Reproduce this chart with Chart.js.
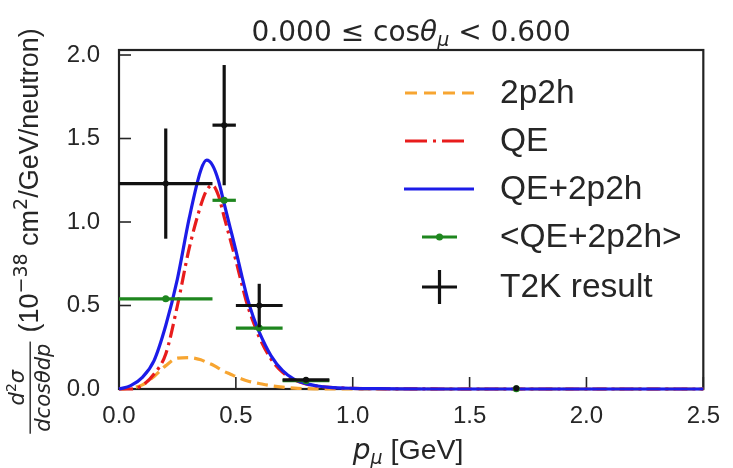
<!DOCTYPE html>
<html><head><meta charset="utf-8">
<script src="https://cdn.jsdelivr.net/npm/chart.js@4.4.0/dist/chart.umd.min.js"></script>
<style>html,body{margin:0;padding:0;background:#fff;}#wrap{width:733px;height:468px;}</style>
</head><body><div id="wrap"><canvas id="c" width="733" height="468"></canvas></div>
<script>
// ---------- data ----------
const momentum = [0,0.05,0.1,0.15,0.2,0.25,0.3,0.35,0.375,0.4,0.425,0.45,0.475,0.5,0.525,0.55,0.575,0.6,0.65,0.7,0.75,0.8,0.85,0.9,1.0,1.1,1.2,1.4,1.7,2.0,2.5];
const twoP2h   = [0,0.005,0.025,0.075,0.14,0.185,0.188,0.175,0.16,0.145,0.125,0.105,0.09,0.074,0.06,0.048,0.04,0.033,0.02,0.011,0.005,0.002,0.001,0,0,0,0,0,0,0,0];
const qe       = [0,0,0.022,0.09,0.21,0.50,0.84,1.10,1.19,1.22,1.16,1.03,0.90,0.77,0.63,0.50,0.40,0.31,0.18,0.10,0.054,0.03,0.017,0.01,0.004,0.002,0.001,0,0,0,0];
const qeSum    = [0,0.02,0.07,0.17,0.38,0.66,1.02,1.31,1.37,1.34,1.25,1.11,0.97,0.83,0.68,0.54,0.43,0.34,0.20,0.11,0.058,0.032,0.018,0.01,0.004,0.002,0.001,0,0,0,0];

const binCenter = [0.2,0.45,0.6,0.8,1.7];
const binLow    = [0.0,0.4,0.5,0.7,1.7];
const binHigh   = [0.4,0.5,0.7,0.9,1.7];
const avgModel  = [0.54,1.13,0.365,0.05,0.002];
const t2kValue  = [1.23,1.58,0.50,0.055,0.004];
const t2kError  = [0.33,0.36,0.13,0.01,0.0];

const xTicks = [0,0.5,1.0,1.5,2.0,2.5];
const yTicks = [0,0.5,1.0,1.5,2.0];

const labels = ['2p2h','QE','QE+2p2h','<QE+2p2h>','T2K result'];

// ---------- styles ----------
const C_OR='#f7a531', C_RED='#e81c1c', C_BLUE='#1c1ce8', C_GREEN='#1e861e', C_BLK='#111111', C_TXT='#262626';

function pts(xs, ys){ return xs.map((x,i)=>({x:x,y:ys[i]})); }

const errSets = {
  '<QE+2p2h>': {color:C_GREEN, y:avgModel, err:null},
  'T2K result': {color:C_BLK, y:t2kValue, err:t2kError}
};

const errorBarPlugin = {
  id:'errbars',
  beforeDatasetDraw(chart,args){
    const ds = chart.data.datasets[args.index];
    const e = errSets[ds.label]; if(!e) return;
    const xs = chart.scales.x, ys = chart.scales.y, ctx = chart.ctx;
    ctx.save(); ctx.strokeStyle = e.color; ctx.lineWidth = 3.2; ctx.lineCap='butt';
    binCenter.forEach((c,i)=>{
      const py = ys.getPixelForValue(e.y[i]);
      if (binHigh[i] > binLow[i]) {
        ctx.beginPath(); ctx.moveTo(xs.getPixelForValue(binLow[i]),py); ctx.lineTo(xs.getPixelForValue(binHigh[i]),py); ctx.stroke();
      }
      if (e.err && e.err[i] > 0) {
        const px = xs.getPixelForValue(c);
        ctx.beginPath(); ctx.moveTo(px, ys.getPixelForValue(e.y[i]-e.err[i])); ctx.lineTo(px, ys.getPixelForValue(e.y[i]+e.err[i])); ctx.stroke();
      }
    });
    ctx.restore();
  }
};

const frameTickPlugin = {
  id:'frameticks',
  beforeDatasetsDraw(chart){
    const ctx = chart.ctx, a = chart.chartArea, xs = chart.scales.x, ys = chart.scales.y;
    ctx.save();
    ctx.strokeStyle = '#262626'; ctx.lineWidth = 1.6;
    yTicks.forEach(v=>{ const p = ys.getPixelForValue(v); ctx.beginPath(); ctx.moveTo(a.left,p); ctx.lineTo(a.left+12,p); ctx.stroke(); });
    xTicks.forEach(v=>{ const p = xs.getPixelForValue(v); ctx.beginPath(); ctx.moveTo(p,a.bottom); ctx.lineTo(p,a.bottom-12); ctx.stroke(); });
    ctx.strokeStyle = '#222'; ctx.lineWidth = 2.2;
    ctx.strokeRect(a.left, a.top, a.right-a.left, a.bottom-a.top);
    ctx.restore();
  }
};

function runsWidth(ctx, runs){ let w=0; runs.forEach(r=>{ctx.font=r.f; w+=ctx.measureText(r.t).width;}); return w; }
function drawRuns(ctx, runs, x, y){ let cx=x; runs.forEach(r=>{ctx.font=r.f; ctx.fillText(r.t, cx, y+(r.dy||0)); cx+=ctx.measureText(r.t).width;}); return cx; }

const textPlugin = {
  id:'texts',
  afterDraw(chart){
    const ctx = chart.ctx, a = chart.chartArea;
    ctx.save();
    ctx.fillStyle = C_TXT; ctx.textBaseline='alphabetic'; ctx.textAlign='left';
    // title
    const title = [
      {t:'0.000 \u2264 cos', f:'28px "DejaVu Sans"'},
      {t:'\u03b8', f:'italic 28px "DejaVu Sans"'},
      {t:'\u03bc', f:'italic 19px "DejaVu Sans"', dy:5},
      {t:' < 0.600', f:'28px "DejaVu Sans"'}
    ];
    const cx = (a.left+a.right)/2;
    drawRuns(ctx, title, cx - runsWidth(ctx,title)/2, 41);
    // x label
    const xl = [
      {t:'p', f:'italic 28px "DejaVu Sans"'},
      {t:'\u03bc', f:'italic 19px "DejaVu Sans"', dy:5},
      {t:' [GeV]', f:'28.5px "Liberation Sans"'}
    ];
    drawRuns(ctx, xl, cx - runsWidth(ctx,xl)/2 - 3, 459);
    // y label (rotated)
    const num = [
      {t:'d', f:'italic 21px "DejaVu Sans"'},
      {t:'2', f:'14px "DejaVu Sans"', dy:-8},
      {t:'\u03c3', f:'italic 21px "DejaVu Sans"'}
    ];
    const den = [{t:'dcos\u03b8dp', f:'italic 21px "DejaVu Sans"'}];
    const main = [
      {t:'(10', f:'27px "Liberation Sans"'},
      {t:'\u221238', f:'19px "DejaVu Sans"', dy:-11},
      {t:' cm', f:'27px "Liberation Sans"'},
      {t:'2', f:'19px "DejaVu Sans"', dy:-11},
      {t:'/GeV/neutron)', f:'27px "Liberation Sans"'}
    ];
    const wn = runsWidth(ctx,num), wd = runsWidth(ctx,den), wf = Math.max(wn,wd)+4;
    const wm = runsWidth(ctx,main), gap = 9;
    const total = wf + gap + wm;
    ctx.translate(38, 231); ctx.rotate(-Math.PI/2);
    const s = -total/2;
    drawRuns(ctx, num, s + (wf-wn)/2, -14);
    drawRuns(ctx, den, s + (wf-wd)/2, 12);
    ctx.fillRect(s, -8.5, wf, 1.4);
    drawRuns(ctx, main, s + wf + gap, 0);
    ctx.restore();

    // legend
    ctx.save();
    const rows = [93,141,189,237,287];
    ctx.font = '33.5px "Liberation Sans"'; ctx.fillStyle = C_TXT; ctx.textBaseline='middle';
    labels.forEach((l,i)=>ctx.fillText(l, 500, rows[i]+1));
    ctx.lineWidth = 3.2; ctx.lineCap='butt';
    function seg(c,dash,x1,x2,y){ ctx.strokeStyle=c; ctx.setLineDash(dash); ctx.beginPath(); ctx.moveTo(x1,y); ctx.lineTo(x2,y); ctx.stroke(); }
    seg(C_OR,[12,7],405,474,rows[0]);
    seg(C_RED,[22,6,3,6],405,470,rows[1]);
    seg(C_BLUE,[],404,474,rows[2]);
    seg(C_GREEN,[],422,457,rows[3]);
    ctx.setLineDash([]); ctx.fillStyle=C_GREEN; ctx.beginPath(); ctx.arc(439.5,rows[3],3.5,0,Math.PI*2); ctx.fill();
    seg(C_BLK,[],422,457,rows[4]);
    ctx.beginPath(); ctx.moveTo(439.5,rows[4]-17); ctx.lineTo(439.5,rows[4]+17); ctx.stroke();
    ctx.restore();
  }
};

new Chart(document.getElementById('c'), {
  type:'scatter',
  data:{ datasets:[
    {label:labels[0], data:pts(momentum,twoP2h), showLine:true, borderColor:C_OR, borderWidth:3.2, borderDash:[11,6], pointRadius:0, cubicInterpolationMode:'monotone', order:5, clip:false},
    {label:labels[1], data:pts(momentum,qe), showLine:true, borderColor:C_RED, borderWidth:3.2, borderDash:[14,5,3,5], pointRadius:0, cubicInterpolationMode:'monotone', order:4, clip:false},
    {label:labels[2], data:pts(momentum,qeSum), showLine:true, borderColor:C_BLUE, borderWidth:3.2, pointRadius:0, cubicInterpolationMode:'monotone', order:3, clip:false},
    {label:labels[3], data:pts(binCenter,avgModel), showLine:false, backgroundColor:C_GREEN, borderColor:C_GREEN, pointRadius:3.5, borderWidth:0, order:2, clip:false},
    {label:labels[4], data:pts(binCenter,t2kValue), showLine:false, backgroundColor:C_BLK, borderColor:C_BLK, pointRadius:3, borderWidth:0, order:1, clip:false}
  ]},
  options:{
    responsive:false, animation:false, devicePixelRatio:1,
    layout:{padding:{left:0,top:50,right:20,bottom:29}},
    plugins:{legend:{display:false}, tooltip:{enabled:false}, title:{display:false}},
    scales:{
      x:{type:'linear', min:0, max:2.5,
         afterFit(s){ s.height = 50; },
         afterBuildTicks(s){ s.ticks = xTicks.map(v=>({value:v})); },
         grid:{display:false, drawTicks:false}, border:{display:false},
         ticks:{padding:13, color:C_TXT, font:{family:'Liberation Sans', size:24}, callback:v=>v.toFixed(1), maxRotation:0, autoSkip:false}},
      y:{type:'linear', min:0, max:2.03,
         afterFit(s){ s.width = 119; },
         afterBuildTicks(s){ s.ticks = yTicks.map(v=>({value:v})); },
         grid:{display:false, drawTicks:false}, border:{display:false},
         ticks:{padding:19, color:C_TXT, font:{family:'Liberation Sans', size:24}, callback:v=>v.toFixed(1), autoSkip:false}}
    }
  },
  plugins:[frameTickPlugin, errorBarPlugin, textPlugin]
});
</script></body></html>
